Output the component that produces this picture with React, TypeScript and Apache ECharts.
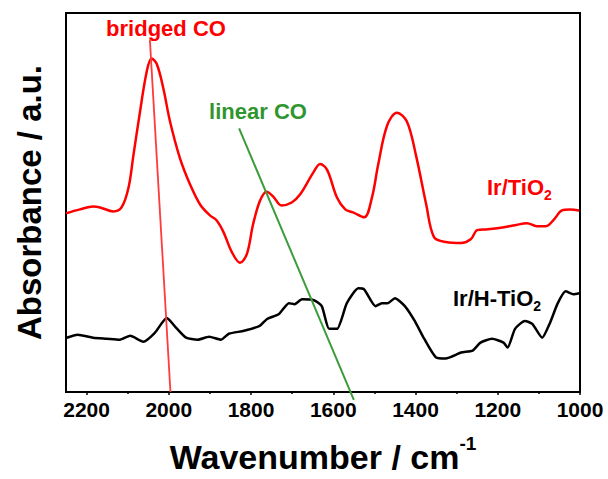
import React, { useEffect, useRef } from "react";
import * as echarts from "echarts";

// Wavenumber (cm^-1) and absorbance (a.u.)
const irTiO2Wn = [2250, 2216, 2184, 2167, 2135, 2115, 2098, 2086, 2070, 2054, 2042, 2029, 2013, 1997, 1973, 1948, 1924, 1900, 1884, 1867, 1847, 1827, 1810, 1795, 1778, 1762, 1746, 1726, 1701, 1681, 1649, 1632, 1615, 1591, 1571, 1552, 1525, 1506, 1491, 1469, 1445, 1421, 1399, 1374, 1355, 1326, 1289, 1265, 1250, 1224, 1185, 1158, 1129, 1105, 1083, 1063, 1044, 1024, 1002];
const irTiO2Abs = [1.81, 1.85, 1.88, 1.87, 1.83, 1.87, 2.07, 2.40, 2.84, 3.24, 3.38, 3.32, 3.07, 2.74, 2.37, 2.10, 1.90, 1.79, 1.74, 1.62, 1.42, 1.31, 1.40, 1.70, 1.94, 2.03, 1.98, 1.89, 1.92, 2.00, 2.22, 2.31, 2.25, 1.97, 1.85, 1.82, 1.77, 1.97, 2.30, 2.70, 2.83, 2.74, 2.40, 1.90, 1.57, 1.52, 1.51, 1.55, 1.64, 1.65, 1.67, 1.69, 1.71, 1.68, 1.68, 1.75, 1.84, 1.85, 1.84];

const irHTiO2Wn = [2248, 2222, 2184, 2151, 2119, 2094, 2062, 2034, 2005, 1982, 1958, 1930, 1902, 1873, 1854, 1817, 1779, 1761, 1732, 1708, 1694, 1676, 1647, 1628, 1610, 1591, 1567, 1539, 1525, 1497, 1482, 1468, 1450, 1426, 1402, 1379, 1350, 1327, 1289, 1261, 1242, 1214, 1186, 1176, 1158, 1134, 1116, 1092, 1073, 1054, 1035, 1016, 1002];
const irHTiO2Abs = [0.55, 0.58, 0.55, 0.54, 0.53, 0.57, 0.51, 0.60, 0.75, 0.65, 0.55, 0.53, 0.56, 0.53, 0.59, 0.62, 0.67, 0.74, 0.79, 0.90, 0.89, 0.94, 0.93, 0.87, 0.64, 0.64, 0.90, 1.05, 1.04, 0.87, 0.90, 0.90, 0.95, 0.87, 0.72, 0.54, 0.35, 0.34, 0.40, 0.42, 0.50, 0.54, 0.50, 0.45, 0.64, 0.72, 0.69, 0.55, 0.70, 0.90, 1.02, 0.99, 1.00];

// Guide lines: [wavenumber, absorbance] end points
const bridgedLine = [[2046, 3.57], [1996, 0]];
const linearLine = [[1829, 2.67], [1550, -0.08]];

const majorTicks = [1000, 1200, 1400, 1600, 1800, 2000, 2200];
const minorTicks = [1100, 1300, 1500, 1700, 1900, 2100];

const FONT = "Liberation Sans, Arial, sans-serif";

export default function App() {
  const ref = useRef<HTMLDivElement>(null);
  useEffect(() => {
    if (!ref.current) return;
    const chart = echarts.init(ref.current, undefined, { renderer: "svg" });
    const zip = (a: number[], b: number[]) => a.map((x, i) => [x, b[i]]);
    chart.setOption({
      animation: false,
      backgroundColor: "#fff",
      grid: { left: 66, right: 28, top: 13, bottom: 82, show: true, borderColor: "#000", borderWidth: 2 },
      xAxis: [
        {
          type: "value",
          min: 1000,
          max: 2250,
          inverse: true,
          interval: 200,
          splitLine: { show: false },
          axisLine: { show: true, lineStyle: { color: "#000", width: 2 } },
          axisTick: { show: true, length: 3, lineStyle: { color: "#000", width: 1.5 }, customValues: majorTicks },
          axisLabel: {
            customValues: majorTicks,
            formatter: (v: number) => String(v),
            color: "#000",
            fontSize: 21,
            fontWeight: "bold",
            fontFamily: FONT,
            margin: 7,
          },
          name: "{m|Wavenumber / cm}{s|-1}",
          nameLocation: "middle",
          nameGap: 42,
          nameTextStyle: {
            rich: {
              m: { fontSize: 34, fontWeight: "bold", fontFamily: FONT, color: "#000", verticalAlign: "bottom", padding: [6, 0, 0, 0] },
              s: { fontSize: 19, fontWeight: "bold", fontFamily: FONT, color: "#000", verticalAlign: "top" },
            },
          },
        },
        {
          type: "value",
          min: 1000,
          max: 2250,
          inverse: true,
          position: "bottom",
          splitLine: { show: false },
          axisLine: { show: false },
          axisLabel: { show: false },
          axisTick: { show: true, length: 2, lineStyle: { color: "#000", width: 1.5 }, customValues: minorTicks },
        },
      ],
      yAxis: {
        type: "value",
        min: 0,
        max: 3.84,
        splitLine: { show: false },
        axisLine: { show: true, lineStyle: { color: "#000", width: 2 } },
        axisTick: { show: false },
        axisLabel: { show: false },
        name: "Absorbance / a.u.",
        nameLocation: "middle",
        nameRotate: 90,
        nameGap: 20,
        nameTextStyle: { fontSize: 33, fontWeight: "bold", fontFamily: FONT, color: "#000" },
      },
      series: [
        {
          name: "Ir/TiO2",
          type: "line",
          data: zip(irTiO2Wn, irTiO2Abs),
          smooth: 0.35,
          symbol: "none",
          lineStyle: { color: "#ff0000", width: 2.5 },
        },
        {
          name: "Ir/H-TiO2",
          type: "line",
          data: zip(irHTiO2Wn, irHTiO2Abs),
          smooth: 0.2,
          symbol: "none",
          lineStyle: { color: "#000000", width: 2.5 },
        },
        {
          name: "bridged CO guide",
          type: "line",
          data: bridgedLine,
          symbol: "none",
          clip: false,
          lineStyle: { color: "#ff3b3b", width: 1.8 },
        },
        {
          name: "linear CO guide",
          type: "line",
          data: linearLine,
          symbol: "none",
          clip: false,
          lineStyle: { color: "#3c9c3c", width: 2 },
        },
      ],
      graphic: [
        {
          type: "text",
          x: 166,
          y: 28,
          style: { text: "bridged CO", fill: "#ff0000", font: `bold 22px ${FONT}`, textAlign: "center", textVerticalAlign: "middle" },
        },
        {
          type: "text",
          x: 258,
          y: 111,
          style: { text: "linear CO", fill: "#2f962f", font: `bold 22px ${FONT}`, textAlign: "center", textVerticalAlign: "middle" },
        },
        {
          type: "text",
          x: 487,
          y: 189,
          style: {
            text: "{m|Ir/TiO}{s|2}",
            textAlign: "left",
            textVerticalAlign: "middle",
            rich: {
              m: { fontSize: 22, fontWeight: "bold", fontFamily: FONT, fill: "#ff0000", verticalAlign: "top", padding: [0, 0, 3, 0] },
              s: { fontSize: 14, fontWeight: "bold", fontFamily: FONT, fill: "#ff0000", verticalAlign: "bottom" },
            },
          },
        },
        {
          type: "text",
          x: 453,
          y: 300,
          style: {
            text: "{m|Ir/H-TiO}{s|2}",
            textAlign: "left",
            textVerticalAlign: "middle",
            rich: {
              m: { fontSize: 22, fontWeight: "bold", fontFamily: FONT, fill: "#000", verticalAlign: "top", padding: [0, 0, 3, 0] },
              s: { fontSize: 14, fontWeight: "bold", fontFamily: FONT, fill: "#000", verticalAlign: "bottom" },
            },
          },
        },
      ],
    });
    return () => chart.dispose();
  }, []);
  return <div ref={ref} style={{ width: 608, height: 479, position: "absolute", left: 0, top: 0 }} />;
}
